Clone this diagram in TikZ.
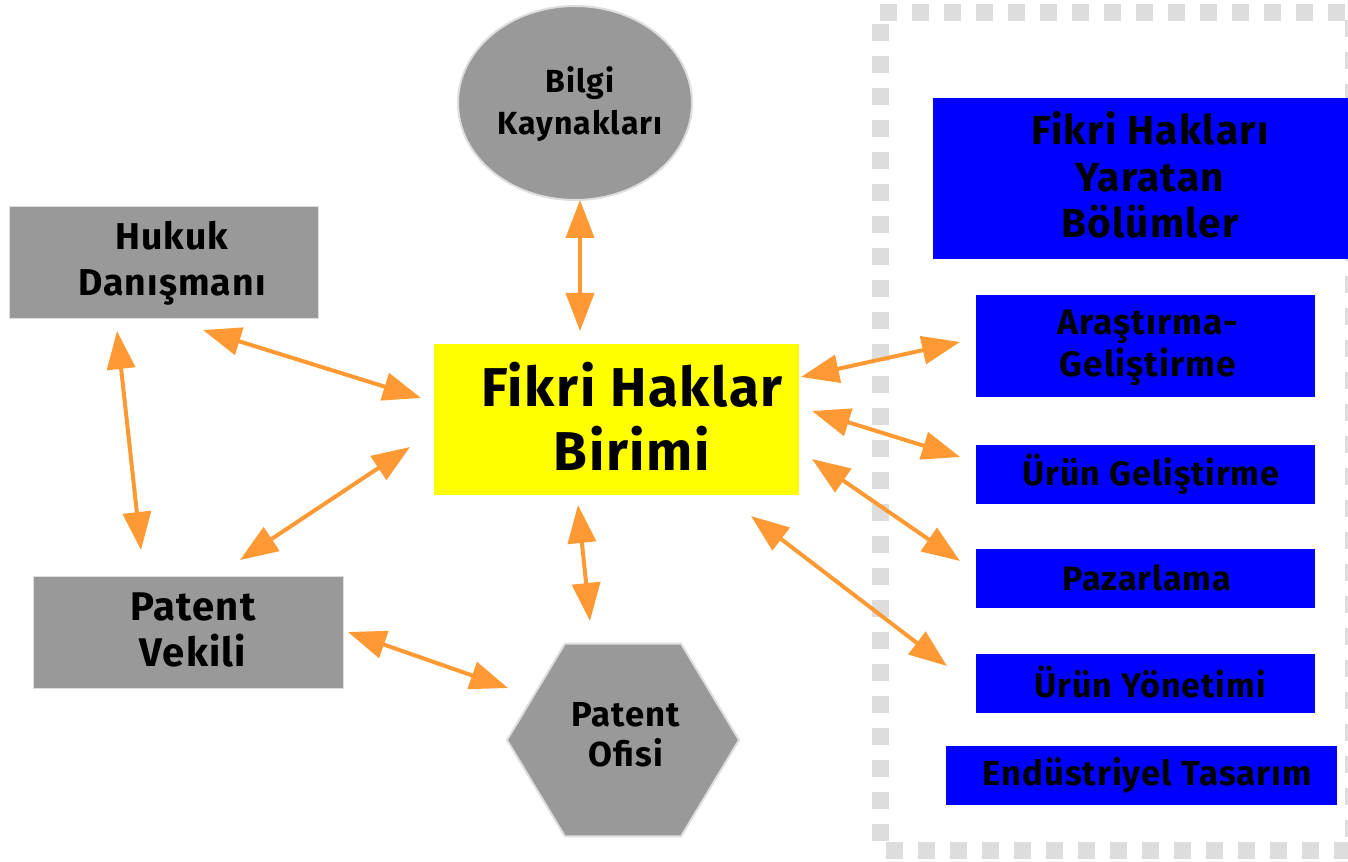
\documentclass[tikz,border=0pt]{standalone}
\usepackage{fontspec}
\setmainfont[LetterSpace=3]{Fira Sans}
\usetikzlibrary{arrows.meta,shapes.geometric}
\newdimen\px \px=0.75pt
\definecolor{boxgray}{HTML}{999999}
\definecolor{lightgray}{HTML}{DDDDDD}
\definecolor{arroworange}{HTML}{FF9933}
\definecolor{pureblue}{HTML}{0000FF}
\definecolor{pureyellow}{HTML}{FFFF00}
\tikzset{
  graybox/.style={rectangle, fill=boxgray, draw=lightgray, line width=1\px, inner sep=0, anchor=north west},
  bluebox/.style={rectangle, fill=pureblue, inner sep=0, anchor=north west},
  lbl/.style={align=center, inner sep=0, font=\bfseries},
  link/.style={draw=arroworange, line width=3pt, {Triangle[length=28.5pt,width=21pt]}-{Triangle[length=28.5pt,width=21pt]}},
}
\newcommand{\fs}[2]{\fontsize{#1}{#2}\selectfont}
\begin{document}
\begin{tikzpicture}[x=1\px,y=-1\px]
\useasboundingbox (0,0) rectangle (1348,862);
\clip (0,0) rectangle (1348,862);
% dashed frame
\draw[lightgray, line width=17\px, dash pattern=on 17\px off 15\px] (880,13) -- (1353,13) -- (1353,850) -- (880,850) -- cycle;
% shapes
\node[ellipse, fill=boxgray, draw=lightgray, line width=2\px, minimum width=234\px, minimum height=194\px, inner sep=0] (bilgi) at (575,103) {};
\node[graybox, minimum width=309\px, minimum height=112\px] (hukuk) at (9,206) {};
\node[graybox, minimum width=310\px, minimum height=112\px] (vekil) at (33,576) {};
\node[rectangle, fill=pureyellow, inner sep=0, anchor=north west, minimum width=365\px, minimum height=151\px] (birim) at (434,344) {};
\node[regular polygon, regular polygon sides=6, fill=boxgray, draw=lightgray, line width=2\px, minimum size=232\px, inner sep=0, yscale=0.96] (ofis) at (623,740) {};
\node[bluebox, minimum width=415\px, minimum height=161\px] (yaratan) at (933,98) {};
\node[bluebox, minimum width=339\px, minimum height=102\px] (arge) at (976,295) {};
\node[bluebox, minimum width=339\px, minimum height=59\px] (urung) at (976,445) {};
\node[bluebox, minimum width=339\px, minimum height=59\px] (pazar) at (976,549) {};
\node[bluebox, minimum width=339\px, minimum height=59\px] (uruny) at (976,654) {};
\node[bluebox, minimum width=391\px, minimum height=59\px] (endus) at (946,746) {};
% labels
\node[lbl, font=\bfseries\fs{41}{48}] (tbirim) at (632,416) {Fikri Haklar\\Birimi};
\node[lbl, font=\bfseries\fs{24}{31.5}] (tbilgi) at (580,104) {Bilgi\\Kaynakları};
\node[lbl, font=\bfseries\fs{28}{34.5}] (thukuk) at (172,263) {Hukuk\\Danışmanı};
\node[lbl, font=\bfseries\fs{30}{35}] (tvekil) at (193,630) {Patent\\Vekili};
\node[lbl, font=\bfseries\fs{26}{30}] (tofis) at (626,735) {Patent\\Ofisi};
\node[lbl, font=\bfseries\fs{30.5}{35}] (tyaratan) at (1150,175) {Fikri Hakları\\Yaratan\\Bölümler};
\node[lbl, font=\bfseries\fs{26.5}{31.5}] (targe) at (1148,348) {Araştırma-\\Geliştirme};
\node[lbl, font=\bfseries\fs{25.5}{30}] (turung) at (1151,474) {Ürün Geliştirme};
\node[lbl, font=\bfseries\fs{25.5}{30}] (tpazar) at (1147,578) {Pazarlama};
\node[lbl, font=\bfseries\fs{25.5}{30}] (turuny) at (1150,682) {Ürün Yönetimi};
\node[lbl, font=\bfseries\fs{26}{30}] (tendus) at (1147,775) {Endüstriyel Tasarım};
% arrow ends
\coordinate (bilgiA) at (580,200); \coordinate (bilgiB) at (580,331);
\coordinate (hukA) at (203,330); \coordinate (hukB) at (421,398);
\coordinate (hukC) at (117,331); \coordinate (vekA) at (141,550);
\coordinate (vekB) at (240,560); \coordinate (birA) at (410,447);
\coordinate (vekC) at (348,632); \coordinate (ofA) at (508,688);
\coordinate (birB) at (578,505); \coordinate (ofB) at (590,621);
\coordinate (birC) at (801,377); \coordinate (argeA) at (960,342);
\coordinate (birD) at (812,411); \coordinate (urungA) at (960,457);
\coordinate (birE) at (812,459); \coordinate (pazarA) at (960,561);
\coordinate (birF) at (751,516); \coordinate (urunyA) at (947,666);
% connectors
\draw[link] (bilgiA) -- (bilgiB);
\draw[link] (hukA) -- (hukB);
\draw[link] (hukC) -- (vekA);
\draw[link] (vekB) -- (birA);
\draw[link] (vekC) -- (ofA);
\draw[link] (birB) -- (ofB);
\draw[link] (birC) -- (argeA);
\draw[link] (birD) -- (urungA);
\draw[link] (birE) -- (pazarA);
\draw[link] (birF) -- (urunyA);
\end{tikzpicture}
\end{document}
